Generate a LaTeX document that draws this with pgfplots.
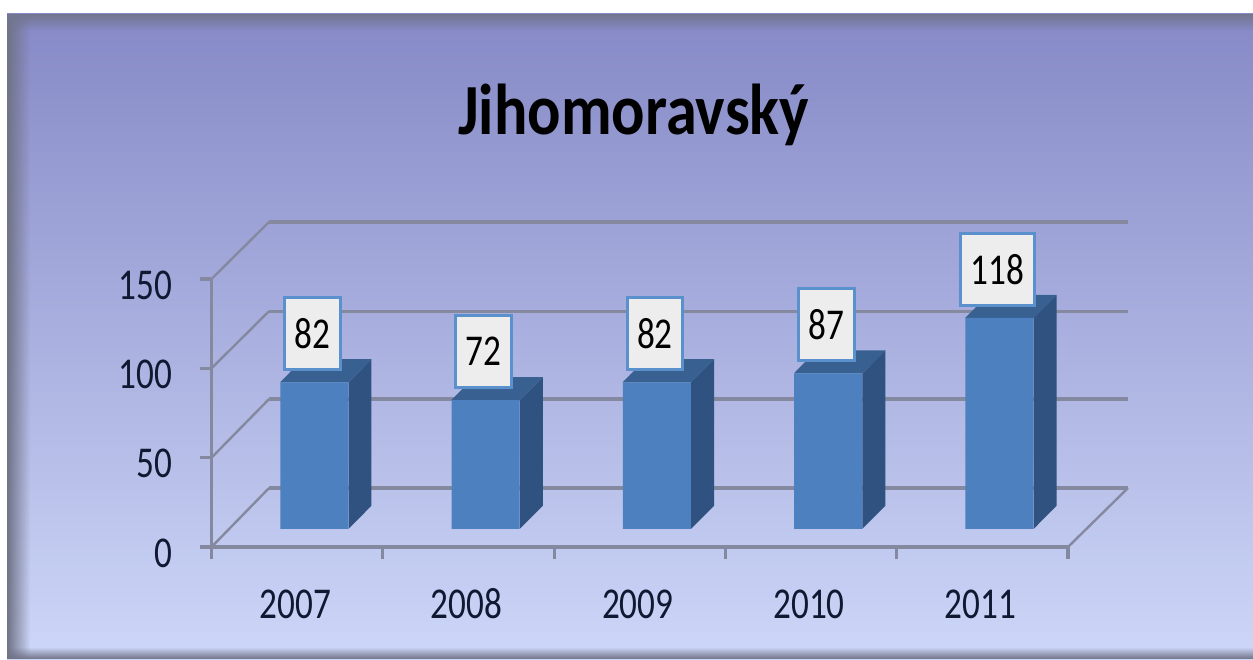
\documentclass[border=0pt]{standalone}
\usepackage{fontspec}
\setmainfont{Carlito}
\newfontfamily\chartfont[FakeStretch=0.8]{Carlito}
\newfontfamily\titlefont[FakeStretch=0.865]{Carlito Bold}
\usepackage{pgfplots}
\pgfplotsset{compat=1.18}
\usetikzlibrary{fadings}
\definecolor{bgtop}{RGB}{134,137,198}
\definecolor{bgbot}{RGB}{205,215,248}
\definecolor{framegray}{RGB}{112,114,134}
\definecolor{gridgray}{RGB}{133,137,160}
\definecolor{barfront}{RGB}{76,128,190}
\definecolor{barside}{RGB}{47,82,128}
\definecolor{bartop}{RGB}{56,97,146}
\definecolor{boxline}{RGB}{90,145,205}
\definecolor{inkblue}{RGB}{16,24,50}
\begin{document}
\begin{tikzpicture}
% page is 1253x659 px at 0.5pt per px
\useasboundingbox (0,0) rectangle (626.5pt,329.5pt);
\fill[white] (0,0) rectangle (626.5pt,329.5pt);
\shade[top color=bgtop, bottom color=bgbot] (3.5pt,0) rectangle (626.5pt,322.5pt);
\fill[framegray, path fading=east] (3.5pt,0) rectangle (15pt,322.5pt);
\fill[framegray!85!bgtop, path fading=south] (3.5pt,314pt) rectangle (626.5pt,322.5pt);
\fill[framegray, path fading=north] (3.5pt,0) rectangle (626.5pt,6pt);
\begin{axis}[
    at={(105.75pt,56pt)},
    anchor=south west,
    scale only axis,
    width=428.25pt,
    height=134pt,
    xmin=0, xmax=5,
    ymin=0, ymax=150,
    clip=false,
    axis x line*=bottom,
    axis y line*=left,
    axis line style={gridgray, line width=1.6pt, -},
    tick style={gridgray, line width=1.6pt},
    tick align=outside,
    major tick length=6pt,
    xtick={0,1,2,3,4,5},
    x tick label as interval,
    xticklabels={2007,2008,2009,2010,2011},
    ytick={0,50,100,150},
    /pgf/number format/assume math mode=true,
    ticklabel style={font=\chartfont\fontsize{22}{24}\selectfont, text=inkblue},
    xticklabel style={yshift=-11pt, xshift=-1pt, text height=15pt, text depth=0pt},
    yticklabel style={xshift=-10pt, yshift=-3pt},
    title={\titlefont\fontsize{36}{40}\selectfont Jihomoravský},
    title style={at={(axis description cs:0.493,1.493)}, anchor=base, text=black},
]
% walls and floor
\addplot[gridgray, line width=1.6pt] coordinates {(0.336,33) (5.35,33)};
\addplot[gridgray, line width=1.6pt] coordinates {(0.336,82.8) (5.35,82.8)};
\addplot[gridgray, line width=1.6pt] coordinates {(0.336,132) (5.35,132)};
\addplot[gridgray, line width=1.6pt] coordinates {(0.336,181.9) (5.35,181.9)};
\addplot[gridgray, line width=1.2pt] coordinates {(0,0) (0.336,33)};
\addplot[gridgray, line width=1.2pt] coordinates {(0,50) (0.336,82.8)};
\addplot[gridgray, line width=1.2pt] coordinates {(0,100) (0.336,132)};
\addplot[gridgray, line width=1.2pt] coordinates {(0,150) (0.336,181.9)};
\addplot[gridgray, line width=1.2pt] coordinates {(5,0) (5.35,33)};
% side faces
\addplot[fill=barside, draw=none] coordinates {(0.80,10.2) (0.934,23.1) (0.934,105.1) (0.80,92.2)} --cycle;
\addplot[fill=barside, draw=none] coordinates {(1.80,10.2) (1.934,23.1) (1.934,95.1) (1.80,82.2)} --cycle;
\addplot[fill=barside, draw=none] coordinates {(2.80,10.2) (2.934,23.1) (2.934,105.1) (2.80,92.2)} --cycle;
\addplot[fill=barside, draw=none] coordinates {(3.80,10.2) (3.934,23.1) (3.934,110.1) (3.80,97.2)} --cycle;
\addplot[fill=barside, draw=none] coordinates {(4.80,10.2) (4.934,23.1) (4.934,141.1) (4.80,128.2)} --cycle;
% top faces
\addplot[fill=bartop, draw=none] coordinates {(0.40,92.2) (0.534,105.1) (0.934,105.1) (0.80,92.2)} --cycle;
\addplot[fill=bartop, draw=none] coordinates {(1.40,82.2) (1.534,95.1) (1.934,95.1) (1.80,82.2)} --cycle;
\addplot[fill=bartop, draw=none] coordinates {(2.40,92.2) (2.534,105.1) (2.934,105.1) (2.80,92.2)} --cycle;
\addplot[fill=bartop, draw=none] coordinates {(3.40,97.2) (3.534,110.1) (3.934,110.1) (3.80,97.2)} --cycle;
\addplot[fill=bartop, draw=none] coordinates {(4.40,128.2) (4.534,141.1) (4.934,141.1) (4.80,128.2)} --cycle;
% front faces with value boxes
\addplot[
    ybar, bar width=34pt, fill=barfront, draw=none, yshift=9.11pt,
    nodes near coords,
    nodes near coords style={
        font=\chartfont\fontsize{22}{24}\selectfont, text=black,
        draw=boxline, line width=1.5pt, fill=black!7,
        inner xsep=5pt, inner ysep=0pt, minimum height=36pt,
        anchor=south, yshift=5.5pt, xshift=-1pt},
] coordinates {(0.60,82) (1.60,72) (2.60,82) (3.60,87) (4.60,118)};
\end{axis}
\end{tikzpicture}
\end{document}
